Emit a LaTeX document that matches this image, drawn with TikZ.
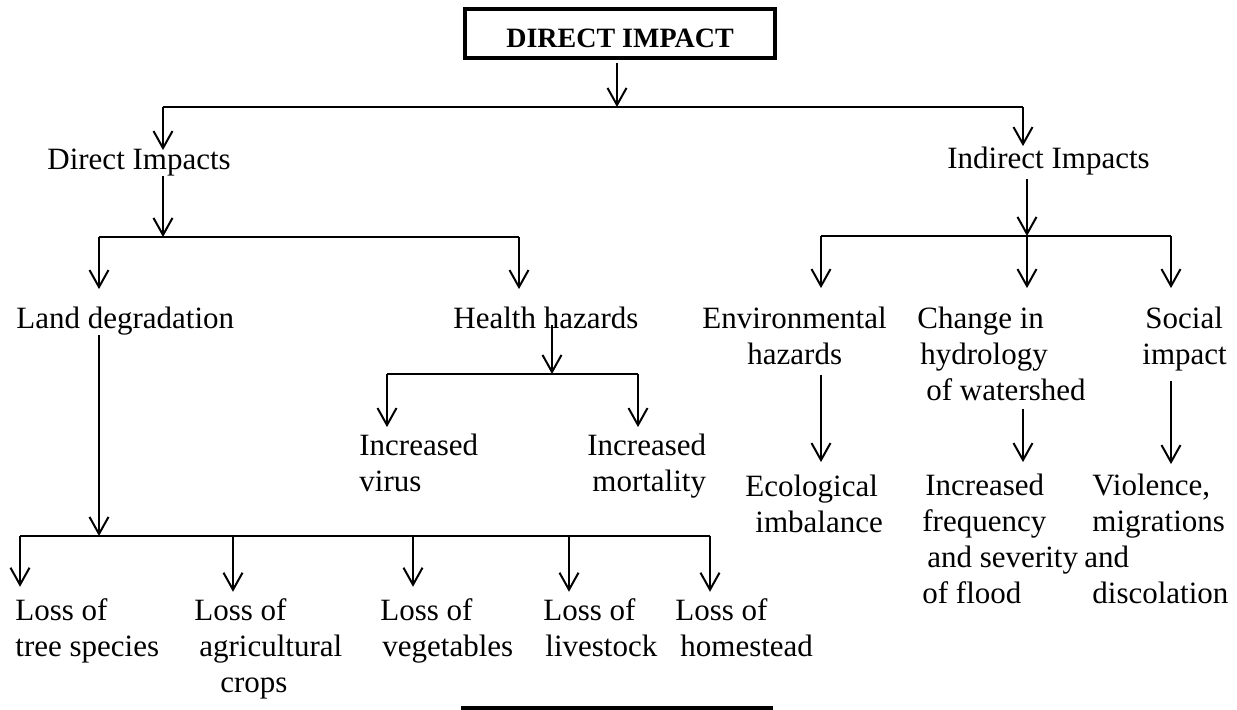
\documentclass[tikz,border=0pt]{standalone}
\usepackage{fontspec}
\setmainfont{Liberation Serif}
\usetikzlibrary{arrows.meta,calc}
\begin{document}
\begin{tikzpicture}[x=0.5pt,y=-0.5pt,
  lbl/.style={inner sep=0pt, anchor=base west, align=left, font=\fontsize{15.5pt}{18pt}\selectfont},
  arr/.style={line width=1pt, -{Straight Barb[length=8.5pt,width=9.5pt,line width=1pt]}},
  ln/.style={line width=1pt},
  bigbox/.style={draw, line width=2pt, inner sep=0pt, minimum width=155pt},
  ]
\clip (0,0) rectangle (1237,709);
\fill[white] (0,0) rectangle (1237,709);

% boxes
\node[bigbox, minimum height=24.5pt, text height=13.5pt, text depth=0pt,
      font=\bfseries\fontsize{14pt}{16pt}\selectfont] (top) at (620,33.5) {DIRECT IMPACT};
\node[bigbox, minimum width=154pt, minimum height=30pt] (bottom) at (617,738) {};

% labels (position = baseline of the LAST line)
\node[lbl] (direct) at (47,169) {Direct Impacts};
\node[lbl] (indirect) at (947,168) {Indirect Impacts};
\node[lbl] (land) at (16,328) {Land degradation};
\node[lbl] (health) at (453,328) {Health hazards};
\node[lbl] (env) at (702,364) {Environmental\\\hspace*{22.5pt}hazards};
\node[lbl] (change) at (917,400) {Change in\\\hspace*{1.5pt}hydrology\\\hspace*{4.5pt}of watershed};
\node[lbl] (social) at (1142,364) {\hspace*{1.5pt}Social\\impact};
\node[lbl] (virus) at (359,491) {Increased\\virus};
\node[lbl] (mort) at (587,491) {Increased\\\hspace*{2.5pt}mortality};
\node[lbl] (eco) at (745,532) {Ecological\\\hspace*{5pt}imbalance};
\node[lbl] (flood) at (922,603) {\hspace*{1.5pt}Increased\\frequency\\\hspace*{2.5pt}and severity\\of flood};
\node[lbl] (viol) at (1084,603) {\hspace*{4pt}Violence,\\\hspace*{4pt}migrations\\and\\\hspace*{4pt}discolation};

\node[lbl] (tree) at (15,656) {Loss of\\tree species};
\node[lbl] (agri) at (194,692) {Loss of\\\hspace*{2.5pt}agricultural\\\hspace*{13pt}crops};
\node[lbl] (veg) at (380,656) {Loss of\\\hspace*{1pt}vegetables};
\node[lbl] (live) at (543,656) {Loss of\\\hspace*{1pt}livestock};
\node[lbl] (home) at (675,656) {Loss of\\\hspace*{2.5pt}homestead};

% junctions
\coordinate (j0) at (617,107);
\coordinate (jA) at (163,107);
\coordinate (jB) at (1023,107);
\coordinate (j1) at (163,237);
\coordinate (j1L) at (99,237);
\coordinate (j1R) at (519,237);
\coordinate (j2) at (1027,236);
\coordinate (j2L) at (821,236);
\coordinate (j2R) at (1171,236);
\coordinate (j3) at (552,374);
\coordinate (j3L) at (387,374);
\coordinate (j3R) at (638,374);
\coordinate (j4) at (99,536);
\coordinate (j4a) at (20,536);
\coordinate (j4b) at (233,536);
\coordinate (j4c) at (413,536);
\coordinate (j4d) at (569,536);
\coordinate (j4e) at (710,536);

% connectors
\draw[arr] ($(top.south -| j0)+(0,3)$) -- (j0);
\draw[ln] (jA) -- (jB);
\draw[arr, shorten >=-1pt] (jA) -- (jA |- direct.north);
\draw[arr] (jB) -- (jB |- indirect.north);

\draw[arr] (direct.south -| j1) -- (j1);
\draw[ln] (j1L) -- (j1R);
\draw[arr, shorten >=8.5pt] (j1L) -- (j1L |- land.north);
\draw[arr, shorten >=8.5pt] (j1R) -- (j1R |- health.north);

\draw[arr] ($(indirect.south -| j2)+(0,4)$) -- (j2);
\draw[ln] (j2L) -- (j2R);
\draw[arr, shorten >=9pt] (j2L) -- (j2L |- env.north);
\draw[arr, shorten >=9pt] (j2) -- (j2 |- change.north);
\draw[arr, shorten >=9pt] (j2R) -- (j2R |- social.north);

\draw[arr] ($(health.base -| j3)+(0,-3)$) -- (j3);
\draw[ln] (j3L) -- (j3R);
\draw[arr, shorten >=3pt] (j3L) -- (j3L |- virus.north);
\draw[arr, shorten >=3pt] (j3R) -- (j3R |- mort.north);

\draw[arr, shorten >=6pt] ($(env.south -| j2L)+(0,10)$) -- (j2L |- eco.north);
\draw[arr, shorten >=5.5pt] ($(change.south -| jB)+(0,8)$) -- (jB |- flood.north);
\draw[arr, shorten >=4.5pt] ($(social.south -| j2R)+(0,10)$) -- (j2R |- viol.north);

\draw[arr] (land.south -| j4) -- (j4);
\draw[ln] (j4a) -- (j4e);
\draw[arr, shorten >=5.5pt] (j4a) -- (j4a |- tree.north);
\draw[arr, shorten >=3pt] (j4b) -- (j4b |- agri.north);
\draw[arr, shorten >=5.5pt] (j4c) -- (j4c |- veg.north);
\draw[arr, shorten >=3pt] (j4d) -- (j4d |- live.north);
\draw[arr, shorten >=3pt] (j4e) -- (j4e |- home.north);
\end{tikzpicture}
\end{document}
